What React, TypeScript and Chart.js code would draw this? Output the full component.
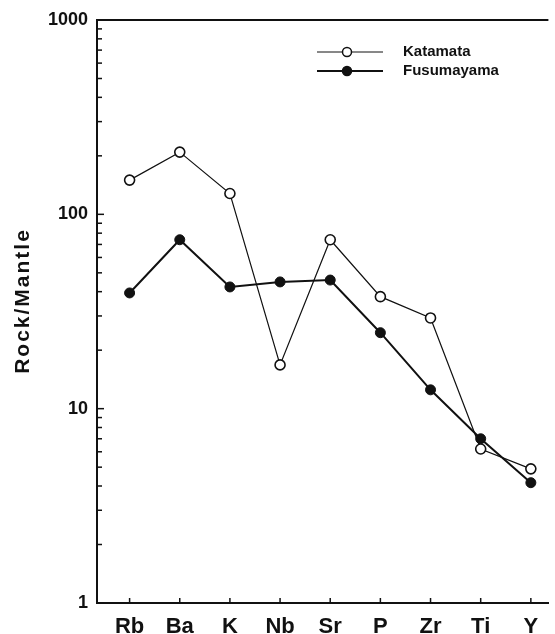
import React, { useEffect, useRef } from "react";
import { Chart, registerables } from "chart.js";
Chart.register(...registerables);

const elements = ["Rb", "Ba", "K", "Nb", "Sr", "P", "Zr", "Ti", "Y"];
const katamata = [150, 209, 128, 16.8, 74, 37.7, 29.3, 6.2, 4.9];
const fusumayama = [39.4, 74, 42.3, 44.9, 45.9, 24.6, 12.5, 7.0, 4.16];
const yTickLabels = [1, 10, 100, 1000];
const seriesNames = ["Katamata", "Fusumayama"];
const yTitle = "Rock/Mantle";

const INK = "#111";
const FONT = "'Liberation Sans', Arial, sans-serif";

const framePlugin = {
  id: "frame",
  afterDraw(chart: any) {
    const { ctx, chartArea } = chart;
    const y = chart.scales.y;
    const x = chart.scales.x;
    ctx.save();
    ctx.strokeStyle = INK;
    // top line
    ctx.lineWidth = 2;
    ctx.beginPath();
    ctx.moveTo(chartArea.left, chartArea.top);
    ctx.lineTo(chartArea.right, chartArea.top);
    ctx.stroke();
    // inside y ticks
    ctx.lineWidth = 1.5;
    for (let d = 1; d < 1000; d *= 10) {
      for (let m = 1; m <= 9; m++) {
        const v = m * d;
        const py = y.getPixelForValue(v);
        const len = m === 1 ? 7 : 5;
        ctx.beginPath();
        ctx.moveTo(chartArea.left, py);
        ctx.lineTo(chartArea.left + len, py);
        ctx.stroke();
      }
    }
    // inside x ticks
    elements.forEach((_, i) => {
      const px = x.getPixelForValue(i + 1);
      ctx.beginPath();
      ctx.moveTo(px, chartArea.bottom);
      ctx.lineTo(px, chartArea.bottom - 5);
      ctx.stroke();
    });
    // y title
    ctx.save();
    ctx.translate(23, 301);
    ctx.rotate(-Math.PI / 2);
    ctx.fillStyle = INK;
    ctx.font = `bold 21px ${FONT}`;
    (ctx as any).letterSpacing = "2px";
    ctx.textAlign = "center";
    ctx.textBaseline = "middle";
    ctx.fillText(yTitle, 0, 0);
    ctx.restore();
    // legend
    const rows = [
      { name: seriesNames[0], y: 52, filled: false, lw: 1 },
      { name: seriesNames[1], y: 71, filled: true, lw: 2 },
    ];
    rows.forEach((r) => {
      ctx.strokeStyle = INK;
      ctx.lineWidth = r.lw;
      ctx.beginPath();
      ctx.moveTo(317, r.y);
      ctx.lineTo(383, r.y);
      ctx.stroke();
      ctx.beginPath();
      ctx.arc(347, r.y, 4.5, 0, Math.PI * 2);
      ctx.fillStyle = r.filled ? INK : "#fff";
      ctx.fill();
      ctx.lineWidth = 1.5;
      ctx.stroke();
      ctx.fillStyle = INK;
      ctx.font = `bold 15px ${FONT}`;
      ctx.textAlign = "left";
      ctx.textBaseline = "middle";
      ctx.fillText(r.name, 403, r.y);
    });
    ctx.restore();
  },
};

export default function App() {
  const ref = useRef<HTMLCanvasElement>(null);
  useEffect(() => {
    if (!ref.current) return;
    const chart = new Chart(ref.current, {
      type: "line",
      data: {
        datasets: [
          {
            label: seriesNames[0],
            data: katamata.map((v, i) => ({ x: i + 1, y: v })),
            borderColor: INK,
            borderWidth: 1.2,
            pointRadius: 5,
            pointBackgroundColor: "#fff",
            pointBorderColor: INK,
            pointBorderWidth: 1.6,
            tension: 0,
          },
          {
            label: seriesNames[1],
            data: fusumayama.map((v, i) => ({ x: i + 1, y: v })),
            borderColor: INK,
            borderWidth: 2,
            pointRadius: 5,
            pointBackgroundColor: INK,
            pointBorderColor: INK,
            pointBorderWidth: 1,
            tension: 0,
          },
        ],
      },
      options: {
        animation: false,
        responsive: false,
        layout: { padding: { top: 20, right: 1, left: 0, bottom: 0 } },
        plugins: { legend: { display: false }, tooltip: { enabled: false } },
        scales: {
          x: {
            type: "linear",
            min: 0.35,
            max: 9.35,
            afterBuildTicks: (s: any) => {
              s.ticks = elements.map((_, i) => ({ value: i + 1 }));
            },
            afterFit: (s: any) => {
              s.height = 31;
            },
            grid: { display: false, drawTicks: false },
            border: { display: true, color: INK, width: 2 },
            ticks: {
              color: INK,
              padding: 11,
              maxRotation: 0,
              autoSkip: false,
              font: { family: FONT, size: 22, weight: "bold" },
              callback: (v: any) => elements[Math.round(v) - 1] ?? "",
            },
          },
          y: {
            type: "logarithmic",
            min: 1,
            max: 1000,
            afterBuildTicks: (s: any) => {
              s.ticks = yTickLabels.map((v) => ({ value: v }));
            },
            afterFit: (s: any) => {
              s.width = 97;
            },
            grid: { display: false, drawTicks: false },
            border: { display: true, color: INK, width: 2 },
            title: { display: false },
            ticks: {
              color: INK,
              padding: 9,
              font: { family: FONT, size: 18, weight: "bold" },
              callback: (v: any) => String(v),
            },
          },
        },
      },
      plugins: [framePlugin],
    });
    return () => chart.destroy();
  }, []);
  return (
    <div style={{ position: "absolute", left: 0, top: 0, width: 555, height: 634, background: "#fff" }}>
      <canvas ref={ref} width={555} height={634} />
    </div>
  );
}
